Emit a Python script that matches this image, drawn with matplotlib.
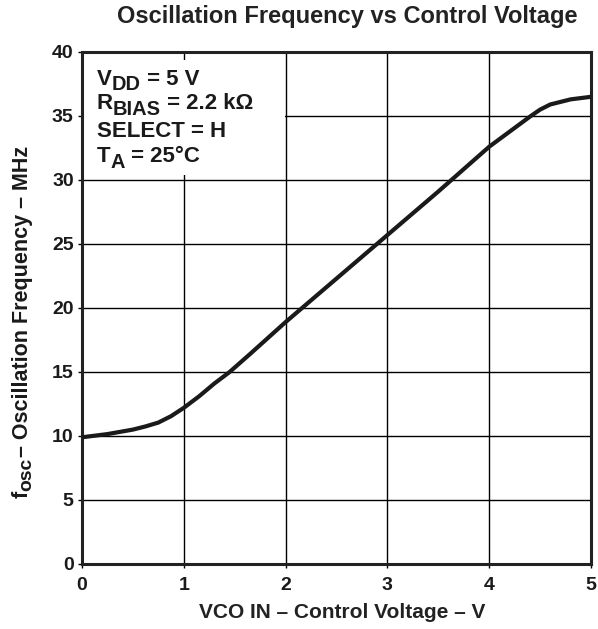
import matplotlib
matplotlib.use("Agg")
import matplotlib.pyplot as plt
from matplotlib.patches import Rectangle

# curve
vco_in = [0, 0.25, 0.5, 0.625, 0.75, 0.875, 1.0, 1.15, 1.3, 1.45, 1.65, 2.0,
          2.5, 3.0, 3.5, 4.0, 4.4, 4.5, 4.6, 4.8, 5.0]
f_osc = [9.9, 10.15, 10.5, 10.75, 11.05, 11.55, 12.2, 13.1, 14.1, 15.0, 16.4,
         18.9, 22.3, 25.7, 29.1, 32.6, 34.95, 35.5, 35.9, 36.3, 36.5]

x_ticks = [0, 1, 2, 3, 4, 5]
y_ticks = [0, 5, 10, 15, 20, 25, 30, 35, 40]

# (text, baseline shift in px, size factor)
conditions = [
    [("V", 0, 1.0), ("DD", -5, 0.9), (" = 5 V", 0, 1.0)],
    [("R", 0, 1.0), ("BIAS", -6, 0.9), (" = 2.2 kΩ", 0, 1.0)],
    [("SELECT = H", 0, 1.0)],
    [("T", 0, 1.0), ("A", -6, 0.9), (" = 25°C", 0, 1.0)],
]
ylabel_parts = [("f", 0, 1.0), ("osc", -3, 0.9),
                ("– Oscillation Frequency – MHz", 0, 1.0)]

W, H = 598, 629
plt.rcParams['font.family'] = ['Liberation Sans', 'DejaVu Sans']
plt.rcParams['font.weight'] = 'bold'

fig = plt.figure(figsize=(W / 100, H / 100), dpi=100)
ax = fig.add_axes([82 / W, 1 - 564 / H, 509 / W, 512 / H])
renderer = fig.canvas.get_renderer()


def text_width(s, size):
    """advance width in px, spaces included"""
    t = fig.text(0, 0, "|" + s + "|", fontsize=size, fontweight='bold')
    w1 = t.get_window_extent(renderer).width
    t.set_text("||")
    w2 = t.get_window_extent(renderer).width
    t.remove()
    return w1 - w2


def rich_text(x_px, y_px, pieces, size, rotation=0):
    """draw pieces side by side from a left-baseline anchor (display px)"""
    pos = 0
    for s, dy, k in pieces:
        fs = size * k
        if rotation == 0:
            px, py = x_px + pos, y_px + dy
        else:
            px, py = x_px - dy, y_px + pos
        fig.text(px / W, py / H, s, fontsize=fs, fontweight='bold',
                 rotation=rotation, rotation_mode='anchor',
                 ha='left', va='baseline', color='#1a1a1a', zorder=5)
        pos += text_width(s, fs)
    return pos


ax.set_xlim(0, 5)
ax.set_ylim(0, 40)
ax.set_xticks(x_ticks)
ax.set_yticks(y_ticks)
ax.tick_params(length=3, width=1, direction='out', labelsize=14)
ax.tick_params(axis='x', pad=6)
ax.tick_params(axis='y', pad=3)
for lab in ax.get_xticklabels() + ax.get_yticklabels():
    lab.set_fontweight('bold')
    lab.set_color('#1a1a1a')
ax.grid(True, color='black', linewidth=1.0, zorder=1)
ax.set_axisbelow(True)
for s in ax.spines.values():
    s.set_linewidth(2.2)
    s.set_color('#222222')

# white area behind the conditions text
ax.add_patch(Rectangle((0.01, 30.4), 1.98, 9.0, facecolor='white',
                       edgecolor='none', zorder=1.5))

ax.plot(vco_in, f_osc, color='#1a1a1a', linewidth=3.0, zorder=3,
        solid_capstyle='butt', solid_joinstyle='round')

for pieces, base in zip(conditions, [85, 109, 137, 162]):
    rich_text(97, H - base, pieces, 16)

fig.text(347 / W, 1 - 17 / H, "Oscillation Frequency vs Control Voltage",
         fontsize=17, fontweight='bold', ha='center', va='center',
         color='#222222')
fig.text(342 / W, 1 - 612 / H, "VCO IN – Control Voltage – V",
         fontsize=15, fontweight='bold', ha='center', va='center',
         color='#222222')

# rotated y label, centred on the axis
total = sum(text_width(s, 15.5 * k) for s, dy, k in ylabel_parts)
rich_text(28, (H - 322) - total / 2, ylabel_parts, 15.5, rotation=90)

fig.savefig("out.png", dpi=100)
